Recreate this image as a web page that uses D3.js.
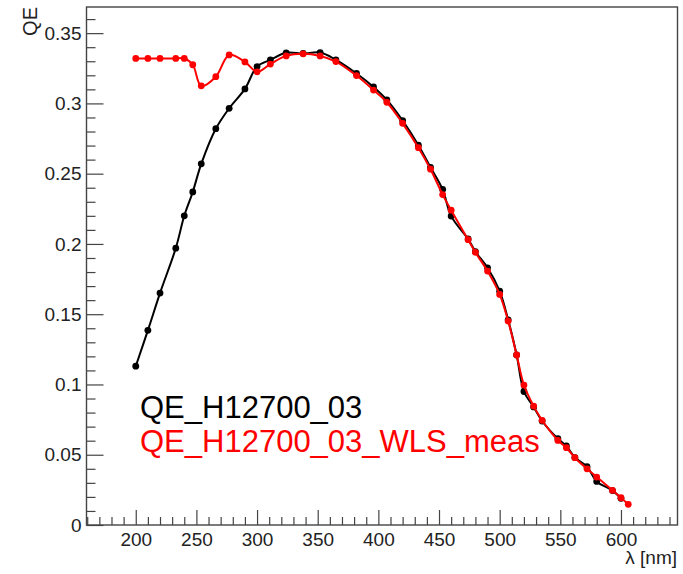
<!DOCTYPE html>
<html lang="en">
<head>
  <meta charset="utf-8">
  <title>QE H12700_03</title>
  <script src="https://d3js.org/d3.v7.min.js"></script>
  <style>
    body { margin: 0; background: #fff; }
    text { font-family: "Liberation Sans", Arial, sans-serif; }
  </style>
</head>
<body>
<script>
  // wavelength grid (nm)
  var lambda = [200, 210, 220, 233, 240, 247, 254, 266, 277, 290, 300, 311, 324, 338, 352, 365, 382, 396,
    407, 420, 433, 443, 453, 460, 474, 480, 490, 500, 507, 514, 520, 528, 535, 548, 555, 562, 572, 580,
    593, 600, 606];
  // QE_H12700_03 (black)
  var qeRef = [0.113, 0.1385, 0.165, 0.197, 0.220, 0.237, 0.257, 0.282, 0.2965, 0.3103, 0.3262, 0.331,
    0.336, 0.3355, 0.3362, 0.331, 0.3213, 0.3117, 0.3025, 0.2878, 0.2703, 0.2545, 0.2388, 0.2198, 0.2035,
    0.1945, 0.183, 0.1664, 0.146, 0.121, 0.095, 0.084, 0.074, 0.0614, 0.0562, 0.048, 0.0415, 0.031,
    0.0245, 0.019];
  // QE_H12700_03_WLS_meas (red)
  var qeWls = [0.332, 0.332, 0.332, 0.332, 0.332, 0.3275, 0.3125, 0.319, 0.3345, 0.3295, 0.3225, 0.328,
    0.3338, 0.3353, 0.3338, 0.3298, 0.3198, 0.3095, 0.3008, 0.2858, 0.2685, 0.2532, 0.2351, 0.2240, 0.2030,
    0.1940, 0.1807, 0.1641, 0.1451, 0.1210, 0.0996, 0.0846, 0.0745, 0.0602, 0.0550, 0.0479, 0.0400,
    0.0341, 0.0247, 0.0194, 0.0147];

  var xMajor = [200, 250, 300, 350, 400, 450, 500, 550, 600];
  var yMajor = [0, 0.05, 0.1, 0.15, 0.2, 0.25, 0.3, 0.35];
  var yLabels = ["0", "0.05", "0.1", "0.15", "0.2", "0.25", "0.3", "0.35"];
  var legendNames = ["QE_H12700_03", "QE_H12700_03_WLS_meas"];
  var colors = ["#000000", "#ff0000"];

  var w = 683, h = 574;
  var margin = {top: 7, right: 5.5, bottom: 49, left: 86.5};
  var innerW = w - margin.left - margin.right,
      innerH = h - margin.top - margin.bottom;

  var svg = d3.select('body').append('svg')
      .attr('width', w)
      .attr('height', h);
  var g = svg.append('g')
      .attr('transform', 'translate(' + [margin.left, margin.top] + ')');

  var x = d3.scaleLinear().domain([159.4, 646.6]).range([0, innerW]);
  var y = d3.scaleLinear().domain([0, 0.3686]).range([innerH, 0]);

  var xMinor = d3.range(160, 647, 10).filter(function(v){ return v % 50 !== 0; });
  var yMinor = d3.range(0, 37).map(function(i){ return i / 100; })
    .filter(function(v){ return Math.round(v * 100) % 5 !== 0; });

  var axisColor = '#444';

  // minor ticks
  g.append('g')
    .attr('transform', 'translate(0,' + innerH + ')')
    .call(d3.axisBottom(x).tickValues(xMinor).tickSize(-8).tickFormat(''));
  g.append('g')
    .call(d3.axisLeft(y).tickValues(yMinor).tickSize(-9).tickFormat(''));

  // major ticks + labels
  var xa = g.append('g')
    .attr('transform', 'translate(0,' + innerH + ')')
    .call(d3.axisBottom(x).tickValues(xMajor).tickSize(-15).tickPadding(8).tickFormat(d3.format('d')));
  var ya = g.append('g')
    .call(d3.axisLeft(y).tickValues(yMajor).tickSize(-17).tickPadding(5)
      .tickFormat(function(d, i){ return yLabels[i]; }));

  g.selectAll('.domain').remove();
  g.selectAll('.tick line').attr('stroke', axisColor).attr('stroke-width', 1.2);
  g.selectAll('.tick text')
    .attr('fill', '#222')
    .style('font-size', '19px')
    .style('font-family', '"Liberation Sans", Arial, sans-serif');

  // frame
  g.append('rect')
    .attr('width', innerW)
    .attr('height', innerH)
    .attr('fill', 'none')
    .attr('stroke', axisColor)
    .attr('stroke-width', 1.4);

  // axis titles
  svg.append('text')
    .attr('transform', 'translate(37,' + margin.top + ') rotate(-90)')
    .attr('text-anchor', 'end')
    .attr('fill', '#222')
    .style('font-size', '20px')
    .text('QE');
  svg.append('text')
    .attr('x', w - 6)
    .attr('y', 564)
    .attr('text-anchor', 'end')
    .attr('fill', '#222')
    .style('font-size', '19px')
    .text('λ [nm]');

  // series
  var line = d3.line()
    .x(function(d){ return x(d[0]); })
    .y(function(d){ return y(d[1]); })
    .curve(d3.curveCatmullRom.alpha(0.5));

  var series = [
    lambda.slice(0, qeRef.length).map(function(l, i){ return [l, qeRef[i]]; }),
    lambda.map(function(l, i){ return [l, qeWls[i]]; })
  ];

  series.forEach(function(s, k){
    g.append('path')
      .datum(s)
      .style('fill', 'none')
      .style('stroke', colors[k])
      .style('stroke-width', 2)
      .attr('d', line);
    g.selectAll('.pt' + k)
      .data(s)
      .enter().append('circle')
      .attr('class', 'pt' + k)
      .attr('cx', function(d){ return x(d[0]); })
      .attr('cy', function(d){ return y(d[1]); })
      .attr('r', 3.4)
      .style('fill', colors[k]);
  });

  // legend
  legendNames.forEach(function(name, k){
    svg.append('text')
      .attr('x', 140)
      .attr('y', 418 + k * 33.5)
      .attr('fill', colors[k])
      .style('font-size', '31px')
      .text(name);
  });
</script>
</body>
</html>
